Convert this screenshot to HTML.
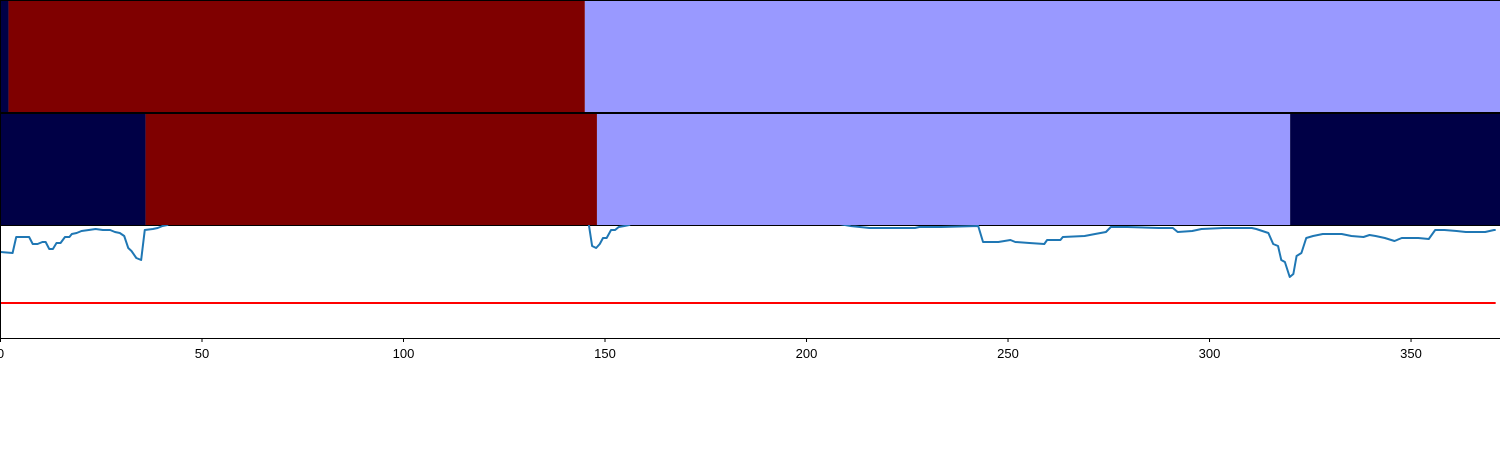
<!DOCTYPE html>
<html><head><meta charset="utf-8"><style>
html,body{margin:0;padding:0;background:#fff;width:1500px;height:450px;overflow:hidden}
svg{display:block;font-family:"Liberation Sans","DejaVu Sans",sans-serif}
</style></head><body>
<svg id="chart" width="1500" height="450" viewBox="0 0 1500 450"></svg>
<script>
const xMax = 372.2;
const row1Starts = [0, 2, 145];
const row1Ends = [2, 145, 372.2];
const row1Classes = [0, 2, 1];
const row2Starts = [0, 36, 148, 320];
const row2Ends = [36, 148, 320, 372.2];
const row2Classes = [0, 2, 1, 0];
const classColors = ["#000046", "#9999ff", "#7f0000"];
const seriesX = [0,3,3.9,7.1,8,9.2,10.4,11.2,12.1,13,13.9,14.9,16,17.1,17.7,18.9,20.1,21.9,23.6,25.4,27.2,28.4,29.6,30.7,31.7,32.5,33.7,34.9,35.8,37.8,39,40.2,41.4,43,100,145,146,146.8,147.8,148.7,149.5,150.4,151.5,152.5,153.4,154.8,156,158,200,210.9,215.6,221.6,226.9,228,233.4,242.6,243.8,247.6,250.6,251.8,255.3,259,259.7,263,263.6,269,271.6,274.3,275.5,279.6,287.4,290.9,292.1,295.7,298,303.4,310.5,311.6,314.6,315.8,317,317.8,318.7,319.9,320.8,321.6,322.8,324,325.7,328.1,332.8,335.2,338.2,339.7,341.2,343.5,345.9,347.7,351.8,354.4,356,358.3,361.3,363.6,368.4,370.6,371];
const seriesY = [0.86,0.85,1.01,1.01,0.94,0.94,0.96,0.96,0.89,0.89,0.95,0.95,1.01,1.01,1.04,1.05,1.07,1.08,1.09,1.08,1.08,1.06,1.05,1.02,0.90,0.87,0.80,0.78,1.08,1.09,1.10,1.12,1.13,1.2,1.2,1.2,1.13,0.92,0.90,0.94,1.0,1.0,1.08,1.08,1.11,1.12,1.13,1.2,1.2,1.12,1.10,1.10,1.10,1.11,1.11,1.12,0.96,0.96,0.98,0.96,0.95,0.94,0.98,0.98,1.01,1.02,1.04,1.06,1.11,1.11,1.10,1.10,1.06,1.07,1.09,1.10,1.10,1.09,1.05,0.94,0.92,0.78,0.76,0.61,0.64,0.82,0.85,1.0,1.02,1.04,1.04,1.02,1.01,1.03,1.02,1.0,0.97,1.0,1.0,0.99,1.08,1.08,1.07,1.06,1.06,1.08,1.08];
const thresholdValue = 0.35;
const xTicks = [0,50,100,150,200,250,300,350];

const NS = "http://www.w3.org/2000/svg";
const svg = document.getElementById("chart");
const plotL = 0.5, plotR = 1500.5;
const xs = v => plotL + v / xMax * (plotR - plotL);
const yTop = 225, yBot = 338, yMaxV = 1.13;
const ys = v => yBot - v / yMaxV * (yBot - yTop);
function mk(tag, attrs){ const e = document.createElementNS(NS, tag); for (const k in attrs) e.setAttribute(k, attrs[k]); svg.appendChild(e); return e; }

const defs = mk("defs", {});
const cp = document.createElementNS(NS, "clipPath"); cp.setAttribute("id", "lineclip");
const cr = document.createElementNS(NS, "rect"); cr.setAttribute("x", 0); cr.setAttribute("y", yTop); cr.setAttribute("width", 1500); cr.setAttribute("height", yBot - yTop);
cp.appendChild(cr); defs.appendChild(cp);

function drawRow(starts, ends, classes, top, h, name){
  for (let i = 0; i < starts.length; i++){
    const r = mk("rect", {x: xs(starts[i]), y: top, width: xs(ends[i]) - xs(starts[i]), height: h, fill: classColors[classes[i]]});
    
    
  }
  const b = mk("rect", {x: 0.5, y: top + 0.5, width: 1500, height: h - 1, fill: "none", stroke: "#000", "stroke-width": 1});
  
  
}
drawRow(row1Starts, row1Ends, row1Classes, 0, 113, "top-heatmap");
drawRow(row2Starts, row2Ends, row2Classes, 113, 113, "middle-heatmap");

const th = mk("line", {x1: xs(0), x2: xs(371), y1: ys(thresholdValue), y2: ys(thresholdValue), stroke: "#ff0000", "stroke-width": 2});



let d = "";
for (let i = 0; i < seriesX.length; i++) d += (i ? "L" : "M") + xs(seriesX[i]).toFixed(2) + "," + ys(seriesY[i]).toFixed(2);
const ln = mk("path", {d: d, fill: "none", stroke: "#1f77b4", "stroke-width": 2, "clip-path": "url(#lineclip)", "stroke-linejoin": "round"});



const ls = mk("line", {x1: 0.5, x2: 0.5, y1: yTop, y2: yBot, stroke: "#000", "stroke-width": 1});


const bs = mk("line", {x1: 0, x2: 1500, y1: yBot + 0.5, y2: yBot + 0.5, stroke: "#000", "stroke-width": 1});



for (const t of xTicks){
  const tk = mk("line", {x1: xs(t), x2: xs(t), y1: yBot, y2: yBot + 4, stroke: "#000", "stroke-width": 1});
  
  
  const tx = mk("text", {x: xs(t), y: 358, "text-anchor": "middle", "font-size": 13, fill: "#000"});
  tx.textContent = t;
  
  
}
</script>
</body></html>
